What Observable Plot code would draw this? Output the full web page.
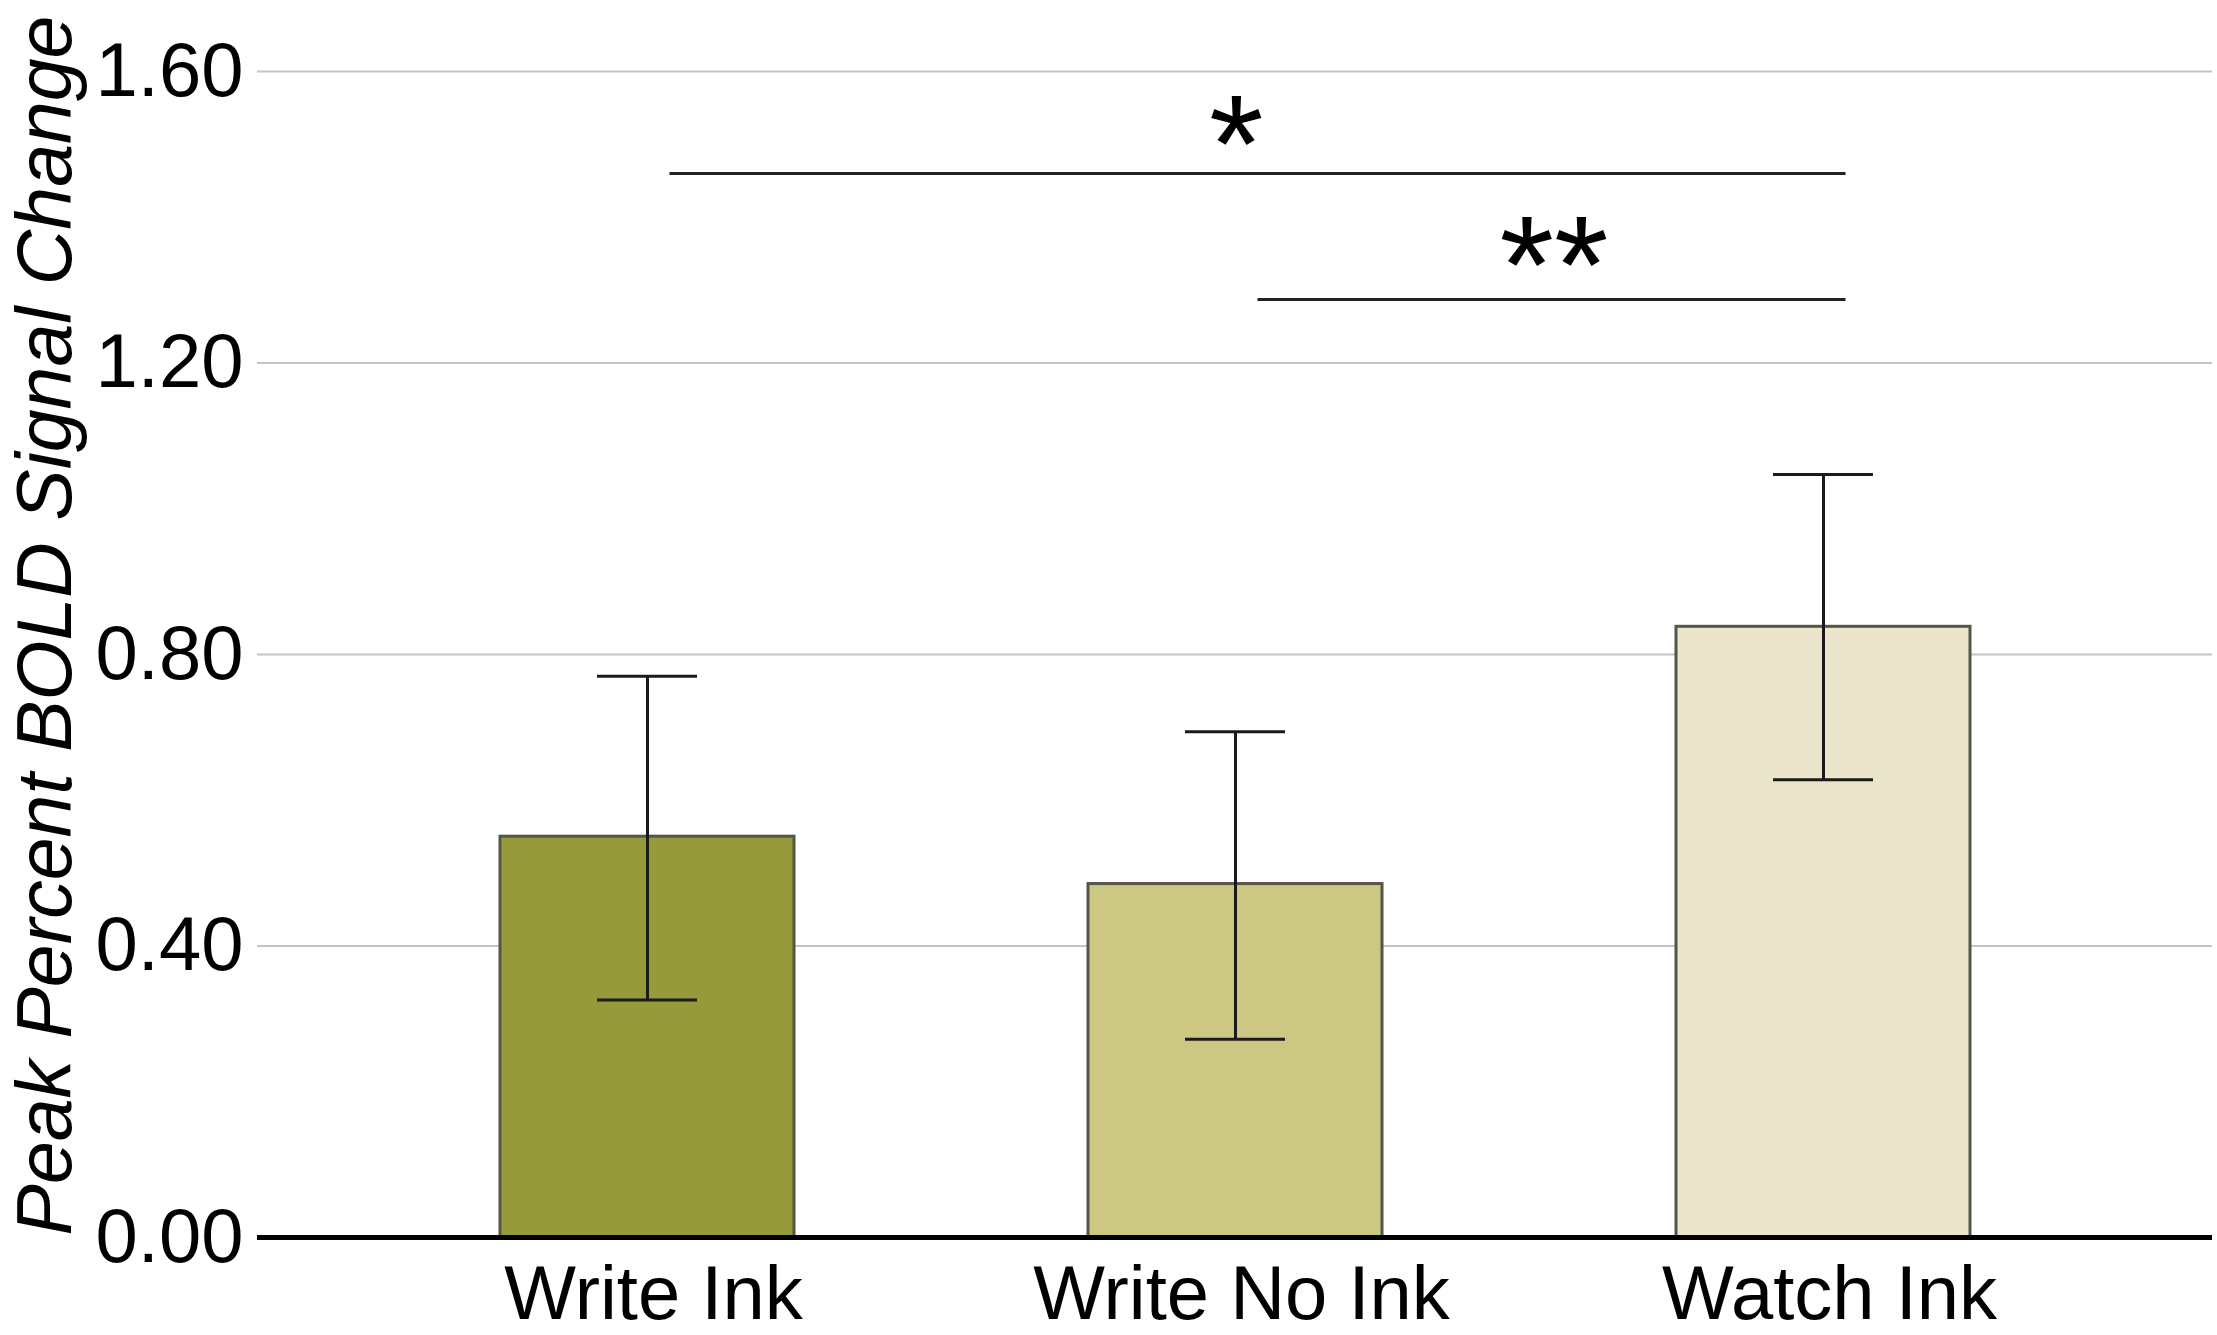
<!DOCTYPE html>
<html>
<head>
<meta charset="utf-8">
<script src="https://cdn.jsdelivr.net/npm/d3@7"></script>
<script src="https://cdn.jsdelivr.net/npm/@observablehq/plot@0.6"></script>
<style>
  html, body { margin: 0; padding: 0; background: #fff; }
</style>
</head>
<body>
<div id="chart"></div>
<script>
// ---- data ----
const conditions = ["Write Ink", "Write No Ink", "Watch Ink"];
const means = [0.55, 0.485, 0.838];
const errLow = [0.326, 0.272, 0.628];
const errHigh = [0.770, 0.694, 1.047];
const barColors = ["#979a3b", "#ccc883", "#ebe5cc"];
const yTicks = [0, 0.4, 0.8, 1.2, 1.6];
const sigFrom = ["Write Ink", "Write No Ink"];
const sigTo = ["Watch Ink", "Watch Ink"];
const sigLineY = [1.46, 1.287];
const sigLabels = ["*", "**"];
const sigLabelY = [1.55, 1.383];
const yLabel = "Peak Percent BOLD Signal Change";

// ---- tables ----
const bars = conditions.map((c, i) => ({condition: c, mean: means[i], lo: errLow[i], hi: errHigh[i]}));
const sig = sigLabels.map((s, i) => ({from: sigFrom[i], to: sigTo[i], y: sigLineY[i], label: s, labelY: sigLabelY[i]}));

// ---- layout ----
const W = 2217, H = 1335;
const ml = 257, mr = 5, mt = 71, mb = 98;
const padIn = 0.5, padOut = 0.41;
const step = (W - ml - mr) / (conditions.length - padIn + 2 * padOut);
const font = "'Liberation Sans', Arial, Helvetica, sans-serif";
const starShift = [0, 24];

const chart = Plot.plot({
  width: W,
  height: H,
  marginLeft: ml,
  marginRight: mr,
  marginTop: mt,
  marginBottom: mb,
  style: {fontFamily: font, background: "#fff", color: "#000"},
  x: {domain: conditions, paddingInner: padIn, paddingOuter: padOut, label: null},
  y: {domain: [0, 1.6], label: null},
  color: {domain: conditions, range: barColors},
  marks: [
    Plot.ruleY(yTicks.filter(d => d > 0), {stroke: "#c4c4c4", strokeWidth: 2}),
    Plot.barY(bars, {x: "condition", y: "mean", fill: "condition", stroke: "#55554a", strokeWidth: 3}),
    Plot.ruleX(bars, {x: "condition", y1: "lo", y2: "hi", stroke: "#1a1a1a", strokeWidth: 3}),
    Plot.tickY(bars, {x: "condition", y: "lo", stroke: "#1a1a1a", strokeWidth: 3, insetLeft: 97, insetRight: 97}),
    Plot.tickY(bars, {x: "condition", y: "hi", stroke: "#1a1a1a", strokeWidth: 3, insetLeft: 97, insetRight: 97}),
    Plot.ruleY([0], {stroke: "#000", strokeWidth: 5}),
    Plot.axisY({ticks: yTicks, tickFormat: d3.format(".2f"), tickSize: 0, tickPadding: 14, fontSize: 76, label: null}),
    Plot.axisX({tickSize: 0, tickPadding: 28, fontSize: 76, dx: 6, label: null}),
    Plot.link(sig, {x1: "from", x2: "to", y1: "y", y2: "y", stroke: "#222", strokeWidth: 3, dx: 22}),
    ...sig.map((s, i) => Plot.text([s], {
      x: "from", y: "labelY", text: "label",
      dx: (conditions.indexOf(s.to) - conditions.indexOf(s.from)) * step / 2 + starShift[i],
      dy: 39, fontSize: 140, lineAnchor: "middle", fill: "#000"
    })),
    Plot.text([yLabel], {
      frameAnchor: "left", text: d => d, rotate: -90, dx: -187, dy: -29,
      fontSize: 77, fontStyle: "italic", textAnchor: "middle", lineAnchor: "bottom", fill: "#000"
    })
  ]
});

document.getElementById("chart").appendChild(chart);
</script>
</body>
</html>
